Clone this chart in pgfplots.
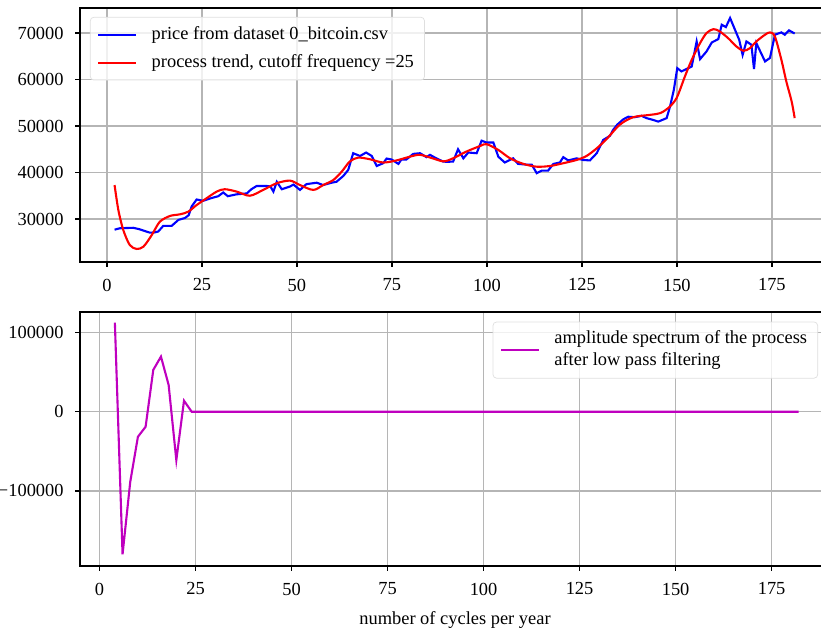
\documentclass[border=0pt]{standalone}
\usepackage{pgfplots}
\pgfplotsset{compat=1.18}
\usepackage{fontspec}
\setmainfont{Liberation Serif}
\definecolor{mplm}{rgb}{0.75,0,0.75}
\pgfplotsset{
  myax/.style={
    scale only axis,
    width=427.5pt, height=144.8pt,
    anchor=north west,
    axis line style={line width=0.8pt, black},
    grid=major,
    major grid style={gray!58, line width=0.8pt},
    tick align=outside, tick pos=left,
    major tick length=2.8pt,
    every tick/.style={black, line width=0.8pt},
    tick label style={font=\fontsize{10.5}{12.6}\selectfont},
    yticklabel style={xshift=-3pt},
    xticklabel style={yshift=-3.2pt},
    label style={font=\fontsize{10.5}{12.6}\selectfont},
    xlabel style={yshift=-2.5pt},
    /pgf/number format/fixed,
    /pgf/number format/precision=0,
    /pgf/number format/assume math mode=true,
    /pgf/number format/1000 sep={},
    scaled y ticks=false, scaled x ticks=false,
    legend style={
      draw=gray!25, fill=white, fill opacity=0.8, text opacity=1,
      rounded corners=2pt, font=\fontsize{10.5}{12.6}\selectfont,
      cells={anchor=west}, inner xsep=4pt, inner ysep=3.5pt, row sep=3pt,
    },
    legend image code/.code={\draw[#1] (0pt,0pt) -- (21.7pt,0pt); \path (27.8pt,0pt);},
  }
}
\begin{document}
\begin{tikzpicture}
\begin{axis}[myax, at={(45.6pt,-4.56pt)},
  xmin=-7.1, xmax=190.3, ymin=20730, ymax=75400,
  xtick={0,25,...,175}, ytick={30000,40000,...,70000},
  legend style={at={(0.0133,0.965)}, anchor=north west}]
\addplot[blue, line width=1.2pt] coordinates {
(2,27700)(3.4,28000)(5,28050)(6.9,28100)(8.5,27800)(9.6,27500)(11.3,27050)(12.5,27100)(13.5,27300)(14.8,28500)(17,28500)(18.8,29800)(20.5,30200)(21.5,30800)(22.3,32700)(23.6,34200)(25.3,33900)(27.5,34500)(29.3,34900)(30.6,35700)(31.8,34900)(34.1,35300)(36.8,35500)(38,36400)(39.4,37100)(42,37100)(43,37000)(43.8,35900)(44.7,38000)(46,36400)(48.2,37000)(49.1,37400)(50.8,36250)(52.5,37500)(55.2,37800)(56.9,37300)(59.1,37800)(60.4,38000)(62.2,39250)(63.5,40550)(64.8,44150)(66.6,43550)(68.2,44300)(69.7,43550)(71,41400)(72.7,42000)(73.6,43000)(74.9,42800)(76.7,41850)(77.5,42800)(78.8,42800)(80.6,44000)(82.4,44150)(84.1,43300)(85,43800)(86.8,43000)(88.5,42350)(89.5,42300)(91.1,42350)(92.4,45000)(93.8,43050)(95.1,44300)(97.3,44150)(98.6,46850)(99.9,46450)(101.7,46450)(103,43400)(104.7,42150)(106.9,43050)(108.2,41850)(110.4,41700)(111.8,41700)(113.1,39850)(114.4,40400)(116.1,40400)(117.5,41850)(119.2,42150)(120.1,43300)(121.4,42600)(123.6,43050)(125.3,42700)(127.1,42600)(128.9,44150)(130.6,47000)(132.4,47900)(133.2,49150)(134.3,50300)(135.9,51450)(137.2,52000)(138.9,51900)(140.7,52200)(142,51700)(143.8,51300)(145.1,50950)(147.3,51700)(148.2,54200)(149.2,57800)(150.1,62450)(151.2,61750)(152.6,62300)(153.9,62800)(155.2,68200)(156.1,64400)(157.8,66050)(159.2,68000)(160.9,68700)(161.8,71800)(162.9,71300)(164,73250)(165.3,70700)(166.4,68550)(167.3,65300)(168.3,68200)(169.6,67500)(170.3,62250)(170.9,67850)(173.2,63900)(174.5,64650)(175.8,69650)(177.5,70150)(178.4,69650)(179.5,70600)(181,69900)
};
\addlegendentry{price from dataset 0\_bitcoin.csv}
\addplot[red, line width=1.2pt, smooth] coordinates {
(2,37300)(3,31900)(4.3,27600)(6,24400)(7.8,23550)(9.6,24050)(11.8,26550)(13.9,29400)(16.6,30650)(19.2,31000)(21.4,31570)(23.6,33000)(26.2,34450)(28.9,35900)(31,36400)(34.1,35900)(37.6,35000)(41.1,36250)(44.7,37700)(48.2,38250)(50.8,37300)(54.3,36250)(56.9,37300)(59.6,38400)(61.8,40200)(63.9,42350)(66.1,43200)(69.2,42850)(72.7,42150)(76.2,42600)(79.7,43400)(82.4,43800)(85.9,43000)(88.6,42400)(91.1,43050)(94.6,44500)(98.2,45700)(99.9,46100)(103,44850)(106.1,43050)(109.6,41850)(113.1,41250)(116.6,41400)(120.1,42000)(123.6,42700)(126.2,43550)(128.9,45200)(131.5,47200)(135,50300)(138.5,51900)(142.9,52400)(145.5,52750)(147.7,53850)(149.9,56000)(152.1,60650)(153.9,64250)(156.1,67850)(157.8,70000)(159.6,70850)(161.3,70350)(163.5,68900)(165.7,67100)(167.5,66200)(169.2,66750)(170.9,68200)(173.2,69650)(174.5,70150)(175.8,69250)(177.5,64250)(178.8,59600)(180.2,55300)(181,51700)
};
\addlegendentry{process trend, cutoff frequency =25}
\end{axis}
\begin{axis}[myax, at={(45.6pt,-177.84pt)},
  xmin=-5.08, xmax=190.2, ymin=-194800, ymax=125900,
  xtick={0,25,...,175}, ytick={-100000,0,100000},
  yticklabels={\textminus100000,0,100000},
  xlabel={number of cycles per year},
  legend style={at={(0.984,0.962)}, anchor=north east, inner ysep=1.4pt, nodes={text depth=}}]
\addplot[mplm, line width=1.2pt] coordinates {
(4,112600)(6,-180000)(8,-88600)(10,-31600)(12,-19000)(14,52800)(16,69600)(18,33800)(20,-61100)(22,13900)(24,0)(26,0)(182,0)
};
\addlegendentry{{\begin{tabular}{@{}l@{}}amplitude spectrum of the process\\after low pass filtering\end{tabular}}}
\end{axis}
\pgfresetboundingbox
\path[use as bounding box] (0pt,0pt) rectangle (467.97pt,-359.1pt);
\end{tikzpicture}
\end{document}
